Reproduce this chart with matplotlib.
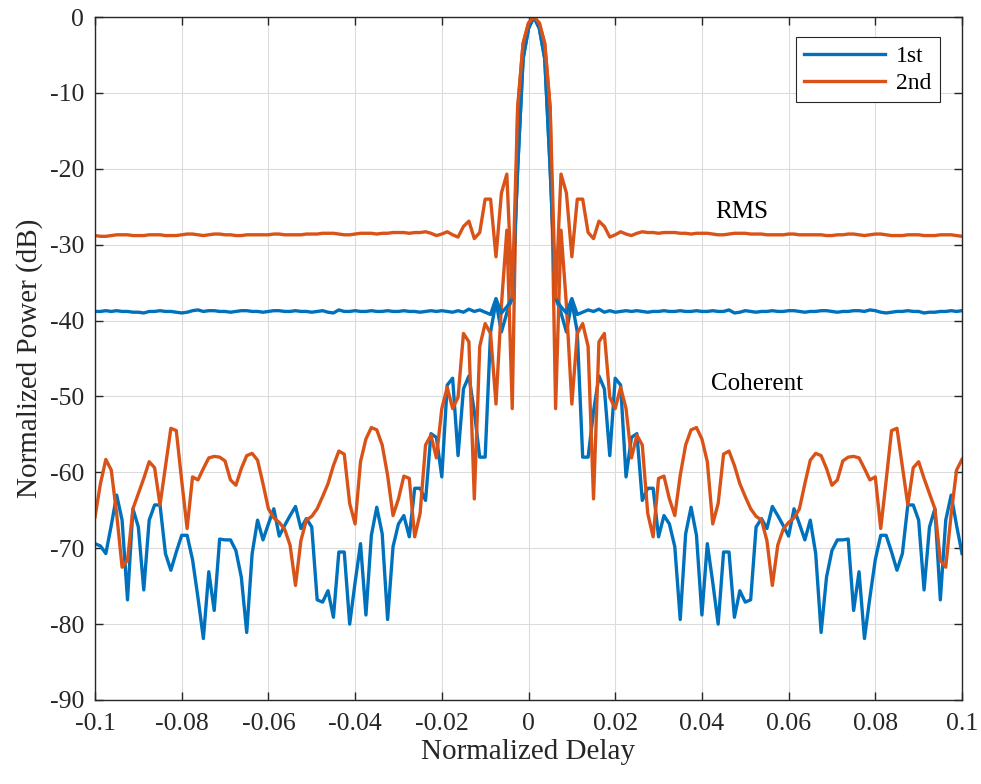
import numpy as np
import matplotlib
matplotlib.use("Agg")
import matplotlib.pyplot as plt

plt.rcParams['font.family'] = ['Liberation Serif', 'DejaVu Serif']
plt.rcParams['axes.unicode_minus'] = False

# Normalized delay samples (161 points across the window)
delay = np.linspace(-0.1, 0.1, 161)

# Coherent sidelobe response, 1st iteration (dB)
coh_1st = [
    -69.4, -69.7, -70.7, -67.0, -63.0, -66.3, -76.8, -64.8, -67.2, -75.5,
    -66.3, -64.3, -64.3, -70.7, -72.9, -70.5, -68.3, -68.3, -71.5, -76.5,
    -81.9, -73.1, -78.2, -68.8, -68.9, -68.9, -70.3, -73.8, -81.1, -70.7,
    -66.3, -68.9, -66.8, -64.8, -68.4, -67.0, -65.7, -64.5, -67.4, -66.1,
    -67.2, -76.8, -77.1, -75.6, -79.1, -70.5, -70.5, -80.0, -74.5, -69.4,
    -78.8, -68.3, -64.6, -68.1, -79.4, -69.8, -66.8, -65.7, -68.5, -62.1,
    -62.1, -63.7, -54.9, -55.4, -60.6, -48.5, -47.6, -57.8, -49.0, -47.3,
    -52.0, -58.0, -58.0, -41.5, -37.5, -41.5, -39.0, -37.0, -20.0, -5.5,
    -1.5, 0.0,
    -1.5, -5.5, -20.0, -37.0, -39.0, -41.5, -37.5, -41.5, -58.0, -58.0,
    -52.0, -47.3, -49.0, -57.8, -47.6, -48.5, -60.6, -55.4, -54.9, -63.7,
    -62.1, -62.1, -68.5, -65.7, -66.8, -69.8, -79.4, -68.1, -64.6, -68.3,
    -78.8, -69.4, -74.5, -80.0, -70.5, -70.5, -79.1, -75.6, -77.1, -76.8,
    -67.2, -66.1, -67.4, -64.5, -65.7, -67.0, -68.4, -64.8, -66.8, -68.9,
    -66.3, -70.7, -81.1, -73.8, -70.3, -68.9, -68.9, -68.8, -78.2, -73.1,
    -81.9, -76.5, -71.5, -68.3, -68.3, -70.5, -72.9, -70.7, -64.3, -64.3,
    -66.3, -75.5, -67.2, -64.8, -76.8, -66.3, -63.0, -67.0, -70.7,
]

# Coherent sidelobe response, 2nd iteration (dB)
coh_2nd = [
    -65.9, -61.5, -58.3, -59.7, -65.5, -72.5, -71.6, -64.8, -62.8, -60.8,
    -58.6, -59.4, -64.3, -59.2, -54.2, -54.5, -61.1, -67.4, -60.6, -61.0,
    -59.5, -58.1, -57.9, -58.0, -58.5, -61.0, -61.7, -59.5, -57.8, -57.5,
    -58.4, -61.5, -64.8, -66.0, -66.6, -67.5, -69.6, -74.9, -69.0, -66.3,
    -65.8, -64.8, -63.2, -61.5, -59.1, -57.2, -57.6, -64.1, -66.8, -58.6,
    -55.6, -54.1, -54.4, -56.4, -60.4, -65.7, -63.5, -60.5, -60.8, -68.5,
    -65.4, -56.4, -55.1, -58.1, -51.6, -48.8, -51.6, -50.1, -41.7, -42.8,
    -63.5, -43.4, -40.4, -41.7, -51.0, -38.0, -28.1, -51.6, -12.0, -3.5,
    -0.8, 0.0,
    -0.8, -3.5, -12.0, -51.6, -28.1, -38.0, -51.0, -41.7, -40.4, -43.4,
    -63.5, -42.8, -41.7, -50.1, -51.6, -48.8, -51.6, -58.1, -55.1, -56.4,
    -65.4, -68.5, -60.8, -60.5, -63.5, -65.7, -60.4, -56.4, -54.4, -54.1,
    -55.6, -58.6, -66.8, -64.1, -57.6, -57.2, -59.1, -61.5, -63.2, -64.8,
    -65.8, -66.3, -69.0, -74.9, -69.6, -67.5, -66.6, -66.0, -64.8, -61.5,
    -58.4, -57.5, -57.8, -59.5, -61.7, -61.0, -58.5, -58.0, -57.9, -58.1,
    -59.5, -61.0, -60.6, -67.4, -61.1, -54.5, -54.2, -59.2, -64.3, -59.4,
    -58.6, -60.8, -62.8, -64.8, -71.6, -72.5, -65.5, -59.7, -58.3,
]

# RMS sidelobe level, 1st iteration (dB)
rms_1st = [
    -38.8, -38.8, -38.7, -38.8, -38.7, -38.8, -38.8, -38.9, -38.9, -39.0,
    -38.8, -38.8, -38.7, -38.8, -38.8, -38.9, -39.0, -38.9, -38.7, -38.6,
    -38.8, -38.7, -38.7, -38.8, -38.8, -38.9, -38.8, -38.7, -38.7, -38.8,
    -38.8, -38.9, -38.8, -38.7, -38.7, -38.8, -38.8, -38.7, -38.8, -38.8,
    -38.9, -38.8, -38.7, -38.9, -39.0, -38.6, -38.8, -38.8, -38.7, -38.8,
    -38.8, -38.7, -38.8, -38.8, -38.7, -38.8, -38.8, -38.7, -38.8, -38.8,
    -38.9, -38.8, -38.7, -38.8, -38.7, -38.8, -38.9, -38.7, -38.9, -38.5,
    -38.8, -38.6, -38.9, -39.2, -37.1, -39.0, -38.2, -37.1, -20.0, -5.5,
    -1.5, 0.0,
    -1.5, -5.5, -20.0, -37.1, -38.2, -39.0, -37.1, -39.2, -38.9, -38.6,
    -38.8, -38.5, -38.9, -38.7, -38.9, -38.8, -38.7, -38.8, -38.7, -38.8,
    -38.9, -38.8, -38.8, -38.7, -38.8, -38.8, -38.7, -38.8, -38.8, -38.7,
    -38.8, -38.8, -38.7, -38.8, -38.8, -38.6, -39.0, -38.9, -38.7, -38.8,
    -38.9, -38.8, -38.8, -38.7, -38.8, -38.8, -38.7, -38.7, -38.8, -38.9,
    -38.8, -38.8, -38.7, -38.7, -38.8, -38.9, -38.8, -38.8, -38.7, -38.7,
    -38.8, -38.6, -38.7, -38.9, -39.0, -38.9, -38.8, -38.8, -38.7, -38.8,
    -38.8, -39.0, -38.9, -38.9, -38.8, -38.8, -38.7, -38.8, -38.7,
]

# RMS sidelobe level, 2nd iteration (dB)
rms_2nd = [
    -28.8, -28.9, -28.9, -28.8, -28.7, -28.7, -28.7, -28.8, -28.8, -28.8,
    -28.7, -28.7, -28.7, -28.8, -28.8, -28.8, -28.7, -28.6, -28.6, -28.7,
    -28.8, -28.7, -28.6, -28.6, -28.7, -28.7, -28.8, -28.8, -28.7, -28.7,
    -28.7, -28.7, -28.7, -28.6, -28.6, -28.7, -28.7, -28.7, -28.7, -28.6,
    -28.6, -28.6, -28.5, -28.5, -28.5, -28.6, -28.7, -28.7, -28.6, -28.5,
    -28.5, -28.5, -28.6, -28.5, -28.5, -28.4, -28.4, -28.4, -28.5, -28.4,
    -28.4, -28.3, -28.5, -28.8, -28.6, -28.3, -28.7, -29.0, -27.6, -26.9,
    -29.2, -28.4, -24.0, -24.0, -31.6, -23.2, -20.7, -37.0, -12.0, -3.5,
    -0.8, 0.0,
    -0.8, -3.5, -12.0, -37.0, -20.7, -23.2, -31.6, -24.0, -24.0, -28.4,
    -29.2, -26.9, -27.6, -29.0, -28.7, -28.3, -28.6, -28.8, -28.5, -28.3,
    -28.4, -28.4, -28.5, -28.4, -28.4, -28.4, -28.5, -28.5, -28.6, -28.5,
    -28.5, -28.5, -28.6, -28.7, -28.7, -28.6, -28.5, -28.5, -28.5, -28.6,
    -28.6, -28.6, -28.7, -28.7, -28.7, -28.7, -28.6, -28.6, -28.7, -28.7,
    -28.7, -28.7, -28.7, -28.8, -28.8, -28.7, -28.7, -28.6, -28.6, -28.7,
    -28.8, -28.7, -28.6, -28.6, -28.7, -28.8, -28.8, -28.8, -28.7, -28.7,
    -28.7, -28.8, -28.8, -28.8, -28.7, -28.7, -28.7, -28.8, -28.9,
]

series_labels = ["1st", "2nd"]
x_ticks = [-0.1, -0.08, -0.06, -0.04, -0.02, 0, 0.02, 0.04, 0.06, 0.08, 0.1]
x_tick_labels = ["-0.1", "-0.08", "-0.06", "-0.04", "-0.02", "0",
                 "0.02", "0.04", "0.06", "0.08", "0.1"]
y_ticks = [-90, -80, -70, -60, -50, -40, -30, -20, -10, 0]

blue = "#0072BD"
orange = "#D95319"
lw = 2.4

fig = plt.figure(figsize=(9.81, 7.84), dpi=100)
ax = fig.add_axes([95 / 981, 84 / 784, 867 / 981, 683 / 784])

ax.plot(delay, coh_1st, color=blue, lw=lw, label=series_labels[0])
ax.plot(delay, coh_2nd, color=orange, lw=lw, label=series_labels[1])
ax.plot(delay, rms_1st, color=blue, lw=lw)
ax.plot(delay, rms_2nd, color=orange, lw=lw)

ax.text(0.0493, -25.7, "RMS", fontsize=18, ha="center", va="center")
ax.text(0.0527, -48.4, "Coherent", fontsize=18, ha="center", va="center")

ax.set_xlim(-0.1, 0.1)
ax.set_ylim(-90, 0)
ax.set_xticks(x_ticks)
ax.set_xticklabels(x_tick_labels)
ax.set_yticks(y_ticks)
ax.set_yticklabels([str(v) for v in y_ticks])

ax.grid(True, color="#dcdcdc", lw=0.8)
ax.set_axisbelow(True)
for sp in ax.spines.values():
    sp.set_color("#262626")
    sp.set_linewidth(1.0)
ax.tick_params(direction="in", top=True, right=True, length=6, width=1.0,
               colors="#262626", labelsize=18.5)
ax.tick_params(axis="x", pad=9)
ax.tick_params(axis="y", pad=8)
for lab in ax.get_xticklabels() + ax.get_yticklabels():
    lab.set_color("#262626")

ax.set_xlabel("Normalized Delay", fontsize=21, color="#262626", labelpad=3)
ax.set_ylabel("Normalized Power (dB)", fontsize=21, color="#262626", labelpad=5)

leg = ax.legend(loc="upper right", bbox_to_anchor=(0.9746, 0.9707),
                borderaxespad=0, fontsize=17, handlelength=3.4,
                fancybox=False, framealpha=1, edgecolor="#262626",
                borderpad=0.35, labelspacing=0.25, handletextpad=0.5)
leg.get_frame().set_linewidth(0.8)

fig.savefig("out.png", dpi=100)
